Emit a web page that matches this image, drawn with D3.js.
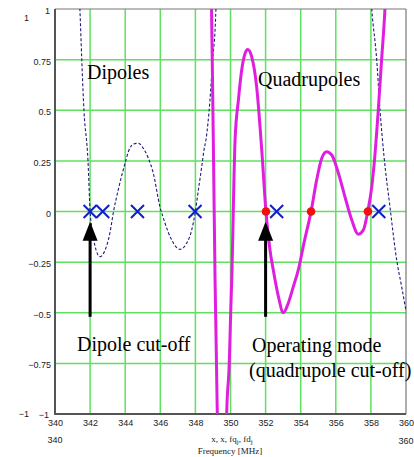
<!DOCTYPE html>
<html>
<head>
<meta charset="utf-8">
<script src="https://cdn.jsdelivr.net/npm/d3@7/dist/d3.min.js"></script>
<style>
  html, body { margin: 0; padding: 0; background: #fff; }
  svg { display: block; }
</style>
</head>
<body>
<svg id="chart" width="414" height="457"></svg>
<script>
// Dipole response (dashed): frequency [MHz] and value
const dipoleFreq = [341.30, 341.42, 341.65, 341.88, 342.00, 342.09, 342.28, 342.56, 342.94, 343.13, 343.32, 343.60,
  343.99, 344.18, 344.46, 344.75, 345.03, 345.32, 345.60, 345.98, 346.27, 346.65, 347.12, 347.50, 347.79, 347.98,
  348.17, 348.36, 348.49, 348.60, 348.83, 348.98, 349.12, 349.17, 349.30];
const dipoleResp = [1.30, 1.00, 0.50, 0.25, 0.00, -0.075, -0.17, -0.223, -0.17, -0.106, -0.007, 0.106,
  0.238, 0.295, 0.333, 0.337, 0.312, 0.263, 0.189, 0.024, -0.058, -0.141, -0.187, -0.157, -0.091, -0.009,
  0.106, 0.221, 0.304, 0.353, 0.55, 0.748, 0.896, 1.00, 1.40];
// Dipole response, upper branch returning near the top end of the band
const dipoleFreqHi = [357.90, 358.05, 358.33, 358.52, 358.75, 359.09, 359.47, 359.75, 360.00];
const dipoleRespHi = [1.20, 1.00, 0.75, 0.50, 0.27, 0.02, -0.24, -0.37, -0.49];

// Quadrupole response (solid): left branch before the pole, right branch after it
const quadFreqA = [348.88, 348.92, 348.96, 349.02, 349.12, 349.25, 349.29];
const quadRespA = [1.30, 1.00, 0.748, 0.353, -0.338, -1.01, -1.30];
const quadFreqB = [349.74, 349.78, 349.93, 350.01, 350.07, 350.26, 350.45, 350.64, 350.83, 350.98, 351.21, 351.49,
  351.78, 352.02, 352.25, 352.44, 352.73, 353.01, 353.29, 353.58, 353.86, 354.20, 354.59, 354.91, 355.20, 355.48,
  355.77, 356.15, 356.52, 356.91, 357.28, 357.57, 357.82, 358.05, 358.20, 358.42, 358.61, 358.80, 358.90];
const quadRespB = [-1.30, -1.005, -0.75, -0.503, -0.338, 0.353, 0.55, 0.70, 0.78, 0.80, 0.764, 0.616,
  0.304, 0.00, -0.19, -0.29, -0.42, -0.50, -0.453, -0.371, -0.289, -0.15, 0.00, 0.156, 0.263, 0.295,
  0.279, 0.189, 0.073, -0.042, -0.112, -0.091, 0.00, 0.122, 0.25, 0.50, 0.75, 1.00, 1.20];

// Mode frequencies marked on the zero line
const dipoleModes = [342.0, 342.72, 344.7, 347.98, 352.63, 358.45];
const quadModes = [352.02, 354.59, 357.83];

// Cut-off arrows: frequency, tail value, tip value
const arrowFreqs = [342.0, 352.0];
const arrowTail = -0.52;
const arrowTip = -0.05;

// Axis ticks
const xTicks = d3.range(340, 361, 2);
const yTicks = [-0.75, -0.5, -0.25, 0, 0.25, 0.5, 0.75];

const svg = d3.select("#chart");
const pLeft = 55, pRight = 406, pTop = 9, pBottom = 414;

const x = d3.scaleLinear().domain([340, 360]).range([pLeft, pRight]);
const y = d3.scaleLinear().domain([-1, 1]).range([pBottom, pTop]);

svg.append("defs").append("clipPath").attr("id", "plotClip")
  .append("rect").attr("x", pLeft).attr("y", pTop).attr("width", pRight - pLeft).attr("height", pBottom - pTop);

// Grid
const grid = svg.append("g");
grid.selectAll("line.v").data(xTicks.filter(d => d > 340 && d < 360)).join("line")
  .attr("x1", d => x(d)).attr("x2", d => x(d)).attr("y1", pTop).attr("y2", pBottom)
  .attr("stroke", "#5fe05f").attr("stroke-width", 1.5);
grid.selectAll("line.h").data(yTicks).join("line")
  .attr("y1", d => y(d)).attr("y2", d => y(d)).attr("x1", pLeft).attr("x2", pRight)
  .attr("stroke", "#5fe05f").attr("stroke-width", 1.5);

// Frame
svg.append("line").attr("x1", pLeft).attr("x2", pRight).attr("y1", pTop).attr("y2", pTop)
  .attr("stroke", "#777").attr("stroke-width", 1.2);
svg.append("line").attr("x1", pRight).attr("x2", pRight).attr("y1", pTop).attr("y2", pBottom)
  .attr("stroke", "#777").attr("stroke-width", 1.2);
svg.append("line").attr("x1", pLeft).attr("x2", pLeft).attr("y1", pTop).attr("y2", pBottom + 1)
  .attr("stroke", "#555").attr("stroke-width", 2);
svg.append("line").attr("x1", pLeft - 1).attr("x2", pRight).attr("y1", pBottom).attr("y2", pBottom)
  .attr("stroke", "#555").attr("stroke-width", 2);

// Curves
const line = d3.line().x(d => x(d[0])).y(d => y(d[1])).curve(d3.curveMonotoneX);
const plot = svg.append("g").attr("clip-path", "url(#plotClip)");

plot.append("path").datum(d3.zip(dipoleFreq, dipoleResp)).attr("d", line)
  .attr("fill", "none").attr("stroke", "#1c1c7a").attr("stroke-width", 1.1).attr("stroke-dasharray", "3,2");
plot.append("path").datum(d3.zip(dipoleFreqHi, dipoleRespHi)).attr("d", line)
  .attr("fill", "none").attr("stroke", "#1c1c7a").attr("stroke-width", 1.1).attr("stroke-dasharray", "3,2");

[d3.zip(quadFreqA, quadRespA), d3.zip(quadFreqB, quadRespB)].forEach(pts => {
  plot.append("path").datum(pts).attr("d", line)
    .attr("fill", "none").attr("stroke", "#e01ee0").attr("stroke-width", 3);
});

// Mode markers
svg.selectAll("circle.q").data(quadModes).join("circle")
  .attr("cx", d => x(d)).attr("cy", y(0)).attr("r", 4.3).attr("fill", "#f01010");
const xs = 6.5;
svg.selectAll("path.d").data(dipoleModes).join("path")
  .attr("d", d => `M${x(d) - xs},${y(0) - xs}L${x(d) + xs},${y(0) + xs}M${x(d) - xs},${y(0) + xs}L${x(d) + xs},${y(0) - xs}`)
  .attr("stroke", "#1020c8").attr("stroke-width", 2).attr("fill", "none");

// Arrows
arrowFreqs.forEach(f => {
  const ax = x(f), yTip = y(arrowTip), yTail = y(arrowTail);
  svg.append("line").attr("x1", ax).attr("x2", ax).attr("y1", yTail).attr("y2", yTip + 16)
    .attr("stroke", "#000").attr("stroke-width", 3);
  svg.append("path").attr("d", `M${ax},${yTip}L${ax - 7.5},${yTip + 19}L${ax + 7.5},${yTip + 19}Z`).attr("fill", "#000");
});

// Axes
const tickFont = "Liberation Sans, Arial, sans-serif";
const yAxis = svg.append("g").attr("transform", `translate(${pLeft},0)`)
  .call(d3.axisLeft(y).tickValues(yTicks).tickSize(0).tickPadding(4).tickFormat(d3.format("")));
yAxis.select(".domain").remove();
yAxis.selectAll("text").attr("font-family", tickFont).attr("font-size", 9).attr("fill", "#222").attr("dy", "0.5em");

const xAxis = svg.append("g").attr("transform", `translate(0,${pBottom})`)
  .call(d3.axisBottom(x).tickValues(xTicks).tickSize(0).tickPadding(6).tickFormat(d3.format("")));
xAxis.select(".domain").remove();
xAxis.selectAll("text").attr("font-family", tickFont).attr("font-size", 9).attr("fill", "#222");

// Axis limit labels
const lim = svg.append("g").attr("font-family", tickFont).attr("font-size", 9).attr("fill", "#222");
lim.append("text").attr("x", 50).attr("y", 14).attr("text-anchor", "end").text("1");
lim.append("text").attr("x", 29).attr("y", 21).attr("text-anchor", "end").text("1");
lim.append("text").attr("x", 49).attr("y", 418).attr("text-anchor", "end").text("\u22121");
lim.append("text").attr("x", 29).attr("y", 417).attr("text-anchor", "end").text("\u22121");
lim.append("text").attr("x", x(340)).attr("y", 443).attr("text-anchor", "middle").text("340");
lim.append("text").attr("x", x(360)).attr("y", 444).attr("text-anchor", "middle").text("360");

// Axis title
const title = svg.append("text").attr("font-family", "Liberation Serif, Times New Roman, serif")
  .attr("font-size", 9).attr("fill", "#222").attr("text-anchor", "middle");
const t1 = title.append("tspan").attr("x", 232).attr("y", 442);
t1.append("tspan").text("x, x, fq");
t1.append("tspan").attr("font-size", 7).attr("dy", 2).text("j");
t1.append("tspan").attr("dy", -2).text(", fd");
t1.append("tspan").attr("font-size", 7).attr("dy", 2).text("j");
title.append("tspan").attr("x", 230).attr("y", 454).text("Frequency [MHz]");

// Annotations
const ann = svg.append("g").attr("font-family", "Liberation Serif, Times New Roman, serif")
  .attr("font-size", 20).attr("fill", "#000");
ann.append("text").attr("x", 87).attr("y", 79).text("Dipoles");
ann.append("text").attr("x", 258).attr("y", 86).text("Quadrupoles");
ann.append("text").attr("x", 77).attr("y", 351).text("Dipole cut-off");
ann.append("text").attr("x", 252).attr("y", 352).text("Operating mode");
ann.append("text").attr("x", 249).attr("y", 377).text("(quadrupole cut-off)");
</script>
</body>
</html>
